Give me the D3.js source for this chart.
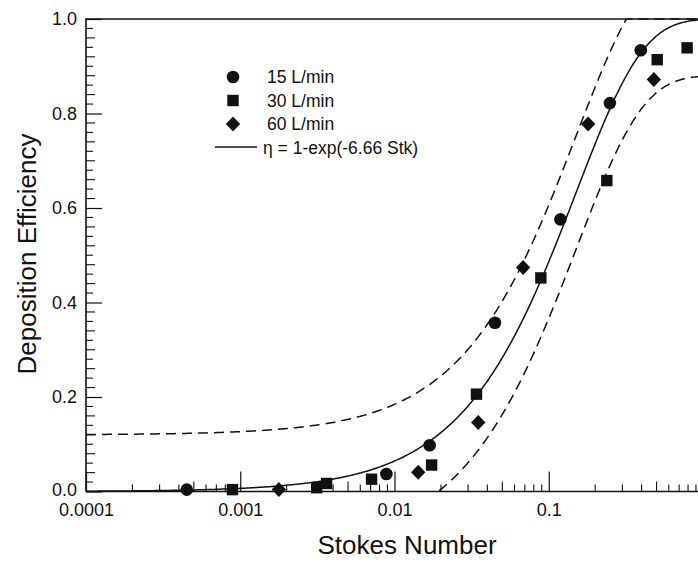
<!DOCTYPE html>
<html>
<head>
<meta charset="utf-8">
<script src="https://cdn.jsdelivr.net/npm/d3@7"></script>
<style>
  html, body { margin: 0; padding: 0; background: #fff; }
  svg text { font-family: "Liberation Sans", Arial, sans-serif; fill: #111; }
</style>
</head>
<body>
<div id="chart"></div>
<script>
const flow15Stk = [0.00045, 0.00886, 0.0169, 0.0448, 0.119, 0.249, 0.395];
const flow15Eff = [0.004, 0.037, 0.098, 0.357, 0.576, 0.822, 0.934];

const flow30Stk = [0.00089, 0.00313, 0.00363, 0.0071, 0.0174, 0.034, 0.0889, 0.238, 0.505, 0.789];
const flow30Eff = [0.004, 0.008, 0.017, 0.026, 0.056, 0.206, 0.452, 0.658, 0.914, 0.939];

const flow60Stk = [0.00178, 0.01425, 0.0349, 0.0682, 0.18, 0.48];
const flow60Eff = [0.004, 0.041, 0.146, 0.474, 0.778, 0.872];

// fit from the legend, plus the dashed band around it
const FIT_K = 6.66;
const BAND = 0.12;

const xTickValues = [0.0001, 0.001, 0.01, 0.1];
const xTickLabels = ['0.0001', '0.001', '0.01', '0.1'];
const yTickValues = [0.0, 0.2, 0.4, 0.6, 0.8, 1.0];
const yTickLabels = ['0.0', '0.2', '0.4', '0.6', '0.8', '1.0'];

const legendLabels = ['15 L/min', '30 L/min', '60 L/min', '\u03b7 = 1-exp(-6.66 Stk)'];

const width = 698, height = 563;
const plotLeft = 86, plotRight = 703, plotTop = 19, plotBottom = 491.5;

const svg = d3.select('#chart').append('svg')
    .attr('width', width)
    .attr('height', height);

const x = d3.scaleLog().domain([0.0001, 1]).range([plotLeft, plotRight]);
const y = d3.scaleLinear().domain([0, 1]).range([plotBottom, plotTop]);

svg.append('defs').append('clipPath').attr('id', 'plot-clip')
    .append('rect')
    .attr('x', plotLeft).attr('y', plotTop - 1)
    .attr('width', plotRight - plotLeft).attr('height', plotBottom - plotTop + 1);

// frame
svg.append('path')
    .attr('d', `M${plotLeft},${plotBottom}V${plotTop}H${plotRight}`)
    .attr('fill', 'none').attr('stroke', '#111').attr('stroke-width', 1.6);
svg.append('line')
    .attr('x1', plotLeft).attr('x2', plotRight).attr('y1', plotBottom).attr('y2', plotBottom)
    .attr('stroke', '#111').attr('stroke-width', 1.6);

// x ticks, pointing up into the plot
const xMinor = [];
for (let e = -4; e < 0; e++) {
    for (let m = 2; m <= 9; m++) xMinor.push({ v: m * Math.pow(10, e), m: m });
}
const xAxis = d3.axisBottom(x)
    .tickValues(xTickValues)
    .tickFormat((d, i) => xTickLabels[i])
    .tickSizeInner(-20)
    .tickSizeOuter(0)
    .tickPadding(12);
const gx = svg.append('g').attr('transform', `translate(0,${plotBottom})`).call(xAxis);
gx.select('.domain').remove();
gx.selectAll('line').attr('stroke', '#111').attr('stroke-width', 1.2);
gx.selectAll('text').attr('font-size', 18).attr('font-family', null);

svg.append('g').selectAll('line')
    .data(xMinor)
    .join('line')
    .attr('x1', d => x(d.v)).attr('x2', d => x(d.v))
    .attr('y1', plotBottom).attr('y2', d => plotBottom - (d.m === 5 ? 10 : 7))
    .attr('stroke', '#111').attr('stroke-width', 1.1);

// y ticks, pointing right into the plot
const yMinor = d3.range(1, 50).filter(i => i % 10 !== 0).map(i => i * 0.02);
const yAxis = d3.axisLeft(y)
    .tickValues(yTickValues)
    .tickFormat((d, i) => yTickLabels[i])
    .tickSizeInner(-16)
    .tickSizeOuter(0)
    .tickPadding(9);
const gy = svg.append('g').attr('transform', `translate(${plotLeft},0)`).call(yAxis);
gy.select('.domain').remove();
gy.selectAll('line').attr('stroke', '#111').attr('stroke-width', 1.2);
gy.selectAll('text').attr('font-size', 18).attr('font-family', null);
// nudge the bottom label up a little so it clears 0.0001
gy.selectAll('text').filter(d => d === 0).attr('dy', '0.2em');

svg.append('g').selectAll('line')
    .data(yMinor)
    .join('line')
    .attr('x1', plotLeft).attr('x2', (d, i) => plotLeft + (i % 2 === 0 ? 7 : 9))
    .attr('y1', d => y(d)).attr('y2', d => y(d))
    .attr('stroke', '#111').attr('stroke-width', 1.1);

// fitted curve and band
const stkSamples = d3.range(-4, 0.0001, 0.01).map(e => Math.pow(10, e));
const fit = s => 1 - Math.exp(-FIT_K * s);
const line = d3.line().x(d => x(d[0])).y(d => y(d[1]));
const plot = svg.append('g').attr('clip-path', 'url(#plot-clip)');

plot.append('path')
    .attr('d', line(stkSamples.map(s => [s, fit(s)])))
    .attr('fill', 'none').attr('stroke', '#111').attr('stroke-width', 1.5);
plot.append('path')
    .attr('d', line(stkSamples.map(s => [s, Math.min(1, fit(s) + BAND)])))
    .attr('fill', 'none').attr('stroke', '#111').attr('stroke-width', 1.5)
    .attr('stroke-dasharray', '10,6');
plot.append('path')
    .attr('d', line(stkSamples.filter(s => fit(s) >= BAND).map(s => [s, fit(s) - BAND])))
    .attr('fill', 'none').attr('stroke', '#111').attr('stroke-width', 1.5)
    .attr('stroke-dasharray', '10,6');

// markers
const circlePath = 'M6.3,0A6.3,6.3 0 1,1 -6.3,0A6.3,6.3 0 1,1 6.3,0Z';
const squarePath = 'M-5.7,-5.7H5.7V5.7H-5.7Z';
const diamondPath = 'M0,-7.5L7.2,0L0,7.5L-7.2,0Z';

function drawSeries(stk, eff, shape) {
    svg.append('g').selectAll('path')
        .data(stk.map((s, i) => [s, eff[i]]))
        .join('path')
        .attr('transform', d => `translate(${x(d[0])},${y(d[1])})`)
        .attr('d', shape)
        .attr('fill', '#111');
}
drawSeries(flow15Stk, flow15Eff, circlePath);
drawSeries(flow30Stk, flow30Eff, squarePath);
drawSeries(flow60Stk, flow60Eff, diamondPath);

// legend
const legend = svg.append('g');
const legendShapes = [circlePath, squarePath, diamondPath];
legendShapes.forEach((shape, i) => {
    legend.append('path')
        .attr('transform', `translate(233,${77 + i * 23.5})`)
        .attr('d', shape).attr('fill', '#111');
});
legend.append('line')
    .attr('x1', 215).attr('x2', 257).attr('y1', 147).attr('y2', 147)
    .attr('stroke', '#111').attr('stroke-width', 1.3);
legendLabels.forEach((t, i) => {
    legend.append('text')
        .attr('x', i < 3 ? 267 : 263)
        .attr('y', 83 + i * 23.5)
        .attr('font-size', 17.5)
        .text(t);
});

// axis titles
svg.append('text')
    .attr('x', 407).attr('y', 554)
    .attr('text-anchor', 'middle')
    .attr('font-size', 26)
    .text('Stokes Number');
svg.append('text')
    .attr('transform', 'translate(36,254) rotate(-90)')
    .attr('text-anchor', 'middle')
    .attr('font-size', 26)
    .text('Deposition Efficiency');
</script>
</body>
</html>
